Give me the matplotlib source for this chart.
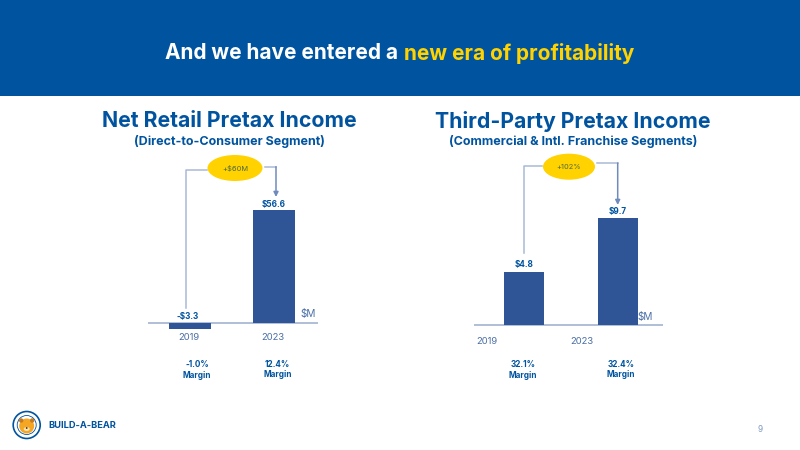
import matplotlib
matplotlib.use("Agg")
import matplotlib.pyplot as plt
from matplotlib.patches import Rectangle, Ellipse, Circle

plt.rcParams['font.family'] = ['Inter', 'DejaVu Sans']

years = ['2019', '2023']
retail_values = [-3.3, 56.6]
retail_labels = ['-$3.3', '$56.6']
retail_margins = ['-1.0%', '12.4%']
third_values = [4.8, 9.7]
third_labels = ['$4.8', '$9.7']
third_margins = ['32.1%', '32.4%']

BLUE = '#00539F'
BAR = '#2F5597'
LINE = '#A9B9D6'
ARROW = '#6F8BBD'
YELLOW = '#FFD200'
W, H = 800, 450

fig = plt.figure(figsize=(8, 4.5), dpi=100, facecolor='white')

# full figure layer in pixel coordinates for the slide furniture
bg = fig.add_axes([0, 0, 1, 1])
bg.set_xlim(0, W)
bg.set_ylim(H, 0)
bg.axis('off')
bg.add_patch(Rectangle((0, 0), W, 96, color=BLUE, lw=0))


def chart_axes(x0, x1, y_top, y_base, scale, centers, bar_w, values, labels, unit_xy, gap, first_dx=0):
    # axes spans y_top..y_base+40 px, zero is at y_base, scale is px per $M
    y_bot = y_base + 40
    ax = fig.add_axes([x0 / W, 1 - y_bot / H, (x1 - x0) / W, (y_bot - y_top) / H])
    ax.patch.set_alpha(0)
    ax.set_xlim(x0, x1)
    ax.set_ylim(-(y_bot - y_base) / scale, (y_base - y_top) / scale)
    ax.axis('off')
    ax.bar(centers, values, width=bar_w, color=BAR, zorder=3)
    ax.axhline(0, color=LINE, lw=1.3, zorder=2)
    for i, (c, v, lab) in enumerate(zip(centers, values, labels)):
        dx = first_dx if i == 0 else 0
        ax.annotate(lab, (c, max(v, 0)), xytext=(dx, gap), textcoords='offset points',
                    ha='center', va='bottom', fontsize=5.9, fontweight='bold', color=BLUE)
    ax.annotate('$M', (x1, 0), xytext=unit_xy, textcoords='offset pixels',
                ha='right', va='bottom', fontsize=7.2, color='#4A6FA5')
    return ax


chart_axes(148, 318, 150, 322.5, 1.98, [190, 274], 42, retail_values, retail_labels, (-2, 4), 1.2, first_dx=-2)
chart_axes(474, 663, 150, 325, 11.0, [524, 617.5], 40, third_values, third_labels, (-10, 3), 2.0)

# banner title, built from two pieces
t1 = bg.text(165, 53, 'And we have entered a ', color='white', fontsize=15,
             fontweight='bold', va='center', ha='left')
fig.canvas.draw()
ext = t1.get_window_extent()
bg.text(ext.x1 + 1, 53, 'new era of profitability', color=YELLOW, fontsize=15,
        fontweight='bold', va='center', ha='left')

# headings
bg.text(229, 121, 'Net Retail Pretax Income', color=BLUE, fontsize=15.3,
        fontweight='bold', ha='center', va='center')
bg.text(229, 141, '(Direct-to-Consumer Segment)', color=BLUE, fontsize=9,
        fontweight='bold', ha='center', va='center')
bg.text(573, 121, 'Third-Party Pretax Income', color=BLUE, fontsize=15.3,
        fontweight='bold', ha='center', va='center')
bg.text(573, 141, '(Commercial & Intl. Franchise Segments)', color=BLUE, fontsize=9,
        fontweight='bold', ha='center', va='center')

# year labels
for x, y, lab in zip([189, 273], [337, 337], years):
    bg.text(x, y, lab, color='#4A6FA5', fontsize=6.8, ha='center', va='center')
for x, y, lab in zip([487, 582], [341, 341], years):
    bg.text(x, y, lab, color='#4A6FA5', fontsize=6.8, ha='center', va='center')

# margin labels
for x, y, m in zip([197, 277.5], [370, 369.5], retail_margins):
    bg.text(x, y, m + '\nMargin', color=BLUE, fontsize=5.9, fontweight='bold',
            ha='center', va='center', linespacing=1.25)
for x, y, m in zip([523, 621], [370, 369.5], third_margins):
    bg.text(x, y, m + '\nMargin', color=BLUE, fontsize=5.9, fontweight='bold',
            ha='center', va='center', linespacing=1.25)


def callout(cx, cy, rx, ry, text, left_x, left_bot, left_y, right_x, right_y, arrow_end):
    bg.plot([left_x, left_x, cx - rx - 1], [left_bot, left_y, left_y], color=LINE, lw=1.1)
    bg.plot([cx + rx + 2, right_x], [right_y, right_y], color=LINE, lw=1.1)
    bg.annotate('', xy=(right_x, arrow_end), xytext=(right_x, right_y),
                arrowprops=dict(arrowstyle='-|>', color=ARROW, lw=1.1, mutation_scale=7,
                                shrinkA=0, shrinkB=0))
    bg.add_patch(Ellipse((cx, cy), 2 * rx, 2 * ry, color=YELLOW, lw=0, zorder=4))
    bg.text(cx, cy, text, color='#4F6B3A', fontsize=5.4, ha='center', va='center', zorder=5)


callout(235, 168, 27.5, 13, '+$60M', 186, 308, 170, 276, 166.7, 197)
callout(569, 166.7, 26, 13, '+102%', 523.7, 253, 165.5, 617.7, 163, 205)

# logo
bg.add_patch(Circle((26.7, 425), 13.5, facecolor='white', edgecolor=BLUE, lw=1.2))
bg.add_patch(Circle((26.7, 425), 9.5, facecolor='white', edgecolor=BLUE, lw=0.6))
bg.add_patch(Circle((26.7, 426), 7.5, facecolor='#F5A623', lw=0))
bg.add_patch(Circle((21.2, 420.5), 2.2, facecolor='#C77A1E', lw=0))
bg.add_patch(Circle((32.2, 420.5), 2.2, facecolor='#C77A1E', lw=0))
bg.add_patch(Ellipse((26.7, 429), 6, 4, facecolor='#FBE3B0', lw=0))
bg.add_patch(Circle((26.7, 428), 0.9, facecolor='#3A2A1A', lw=0))
bg.text(48, 425, 'BUILD-A-BEAR', color=BLUE, fontsize=6.7, fontweight='bold',
        ha='left', va='center')

bg.text(760, 430, '9', color='#7F9AC4', fontsize=6, ha='center', va='center')

fig.savefig('out.png', dpi=100)
